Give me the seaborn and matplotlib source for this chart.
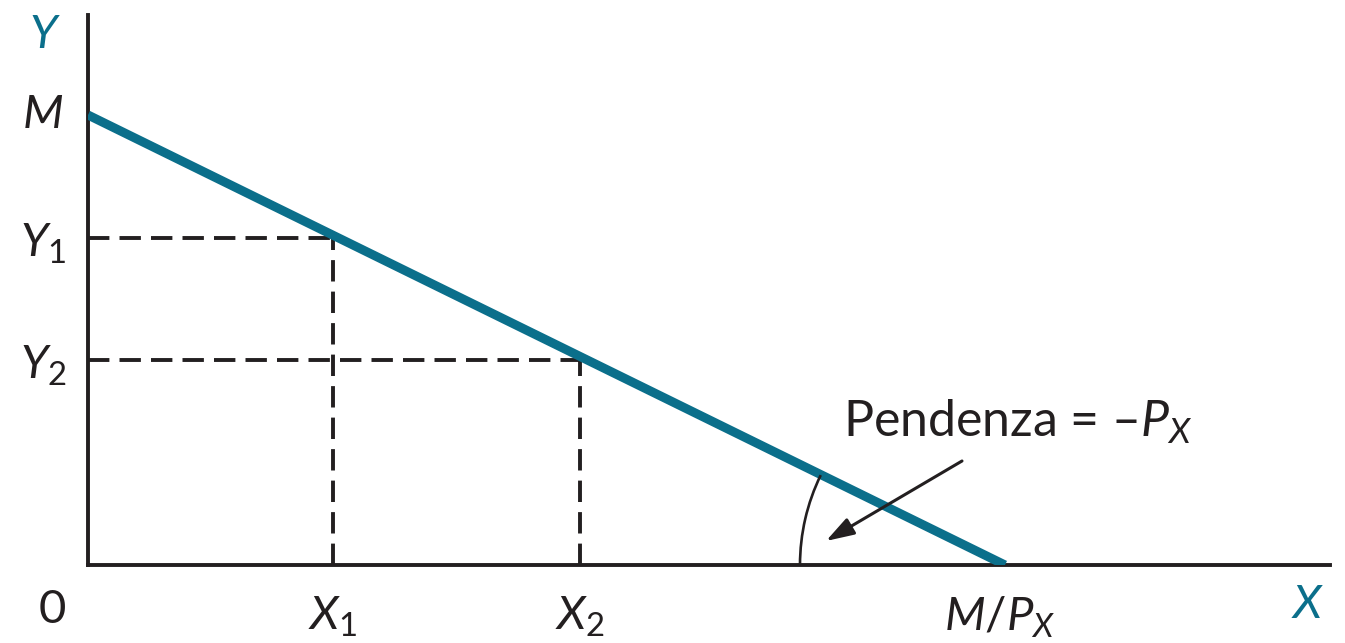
import matplotlib
matplotlib.use("Agg")
import matplotlib.pyplot as plt
import seaborn as sns
import pandas as pd
from matplotlib.patches import Arc

# budget line data (units ~ pixels of the original drawing)
income_M = 450
max_X = 917
x_points = [0, max_X]
y_points = [income_M, 0]
X_marks = [245, 492]
Y_marks = [327, 205]
x_labels = ["$X_1$", "$X_2$"]
y_labels = ["$Y_1$", "$Y_2$"]

teal = "#0b6f8b"
ink = "#231f20"

sns.set_style("white")
plt.rcParams["font.family"] = ["Lato", "DejaVu Sans"]
plt.rcParams["mathtext.fontset"] = "custom"
plt.rcParams["mathtext.rm"] = "Lato"
plt.rcParams["mathtext.it"] = "Lato:italic"

fig = plt.figure(figsize=(13.45, 6.43), dpi=100)
ax = fig.add_axes([88 / 1345, 78 / 643, 1242 / 1345, 550 / 643])

df = pd.DataFrame({"X": x_points, "Y": y_points})
sns.lineplot(data=df, x="X", y="Y", ax=ax, color=teal, linewidth=6.5,
             solid_capstyle="butt", zorder=3)

# dashed guides
for xv, yv in zip(X_marks, Y_marks):
    ax.plot([0, xv], [yv, yv], color=ink, lw=2.8, dashes=(5.5, 2.6), zorder=2)
    ax.plot([xv, xv], [0, yv], color=ink, lw=2.8, dashes=(5.5, 2.6), zorder=2)

ax.set_xlim(0, 1242)
ax.set_ylim(0, 550)
ax.set_xticks([])
ax.set_yticks([])
ax.set_xlabel("")
ax.set_ylabel("")
for s in ["top", "right"]:
    ax.spines[s].set_visible(False)
for s in ["left", "bottom"]:
    ax.spines[s].set_color(ink)
    ax.spines[s].set_linewidth(2.8)

fs = 34
kw = dict(transform=ax.transData, clip_on=False, fontsize=fs, color=ink)
ax.text(-43, 530, "$Y$", ha="center", va="center", **{**kw, "color": teal})
ax.text(-45, 450, "$M$", ha="center", va="center", **kw)
for yv, lab in zip(Y_marks, y_labels):
    ax.text(-45, yv - 6, lab, ha="center", va="center", **kw)
ax.text(-36, -45, "0", ha="center", va="center", **kw)
for xv, lab in zip(X_marks, x_labels):
    ax.text(xv, -52, lab, ha="center", va="center", **kw)
ax.text(max_X - 5, -52, "$M/P_X$", ha="center", va="center", **kw)
ax.text(1220, -40, "$X$", ha="center", va="center", **{**kw, "color": teal})

# slope annotation
ax.text(755, 143, "Pendenza = $\u2013P_X$", ha="left", va="center",
        **{**kw, "fontsize": 36})
ax.add_patch(Arc((max_X, 0), 410, 410, theta1=154, theta2=180,
                 color=ink, lw=1.9, zorder=4))
ax.annotate("", xy=(738, 24), xytext=(874, 104),
            arrowprops=dict(arrowstyle="-|>,head_length=1.7,head_width=0.55",
                            color=ink, lw=2.2, shrinkA=0, shrinkB=0),
            zorder=5)

fig.savefig("out.png", dpi=100)
plt.close(fig)
